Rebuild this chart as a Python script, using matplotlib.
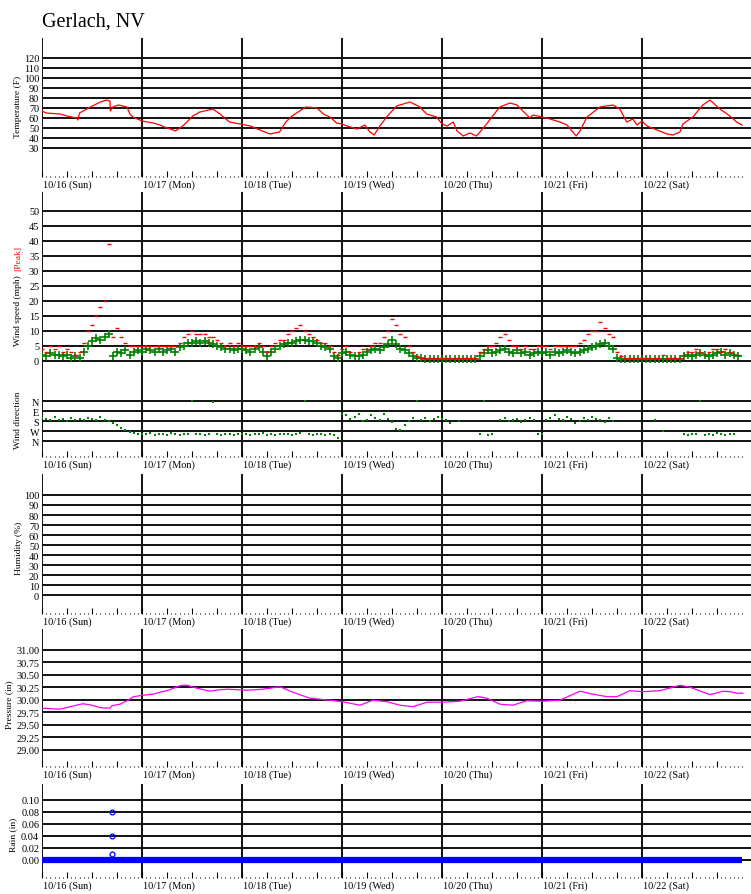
import numpy as np
import matplotlib
matplotlib.use('Agg')
import matplotlib.pyplot as plt
from matplotlib.ticker import FixedLocator

plt.rcParams['font.family'] = ['Liberation Serif', 'DejaVu Serif']

### DATA (hours since 10/16 00:00) ###
day_labels = ['10/16 (Sun)', '10/17 (Mon)', '10/18 (Tue)', '10/19 (Wed)',
              '10/20 (Thu)', '10/21 (Fri)', '10/22 (Sat)']

temp_hours = [0, 1, 4.3, 6, 8.3, 8.6, 9, 11.5, 14, 15.5, 16.3, 16.4, 17, 18.3, 20.4, 21.1, 21.9, 23.5,
              24, 26.7, 28.3, 30, 31.5, 32, 33.8, 36.2, 37.9, 41, 42.7, 45, 47.5,
              50, 52.3, 54.7, 57, 58.5, 60, 63.3, 66, 67.5, 69.1, 70.7, 72,
              73.2, 75.6, 77.5, 78.7, 79.7, 81.1, 82.7, 85.1, 88.3, 90.7, 92.3, 94.7, 96,
              97.2, 98.7, 99.6, 101.1, 102.7, 104.3, 106.7, 109.1, 109.9, 112.3, 114, 115.4, 117.1, 117.8, 120,
              121.9, 124.3, 126, 127.2, 128.2, 129.1, 130.8, 133.9, 137, 138.7, 140.3, 141.8, 142.8, 144,
              145.2, 147.6, 150, 151.4, 153.1, 153.8, 156.2, 158.6, 160.3, 162.7, 165.1, 166.7, 168]
temp_f = [67, 65, 64, 62, 60, 58, 65, 70.7, 76, 78, 77, 67, 71, 73, 71, 64, 60.7, 58,
          57, 55, 53, 50, 48, 47, 52, 62, 66, 69, 64, 56, 54,
          52, 48, 44, 46, 56, 62, 71, 70, 64, 61, 55, 54,
          52, 49, 53, 46, 43, 52, 61, 72, 76, 71, 64, 61, 54,
          52, 56, 47, 42, 45, 42, 54, 67, 71, 75, 73, 67, 60, 63, 61,
          59, 56, 53, 47, 42, 47, 61, 71, 73, 69, 56, 59, 53, 57,
          52, 48, 44, 43, 46, 54, 61, 73, 78, 69, 62, 56, 53]

wind_hours = list(range(168))
wind_avg = [2, 1.5, 2.5, 2, 2, 1.5, 2, 1, 1.5, 1, 3, 5, 6.5, 7.5, 7, 8, 9, 1.5, 3, 2.5, 3.5, 2, 3, 3.5,
            3, 4, 3.5, 3, 4, 3, 3.5, 4, 3, 4.5, 5, 6, 6, 6.5, 6, 6.5, 6, 5.5, 5, 4.5, 4, 4, 3.5, 4,
            4, 3.5, 3, 4, 4.5, 3, 1.5, 3, 4, 5, 5.5, 6, 6, 6.5, 7, 7, 6.5, 6.5, 6, 5, 4.5, 4, 1.5, 1,
            2.5, 3, 2, 1.5, 1.5, 2, 3, 3.5, 4, 3.5, 4.5, 5.5, 7, 5.5, 4, 3.5, 2.5, 1.5, 1, 1, 0.5, 0.5, 0.5, 0.5,
            0.5, 0.5, 0.5, 0.5, 0.5, 0.5, 0.5, 0.5, 0.5, 1.5, 2.5, 3.5, 2.5, 3, 3.5, 4, 3, 2.5, 3.5, 2.5, 3, 2, 2.5, 3,
            2.5, 3, 2, 3, 2.5, 3, 3.5, 3, 2.5, 3, 3.5, 4, 4.5, 5, 5.5, 6, 5, 4, 1, 0.5, 0.5, 0.5, 0.5, 0.5,
            0.5, 0.5, 0.5, 0.5, 0.5, 0.5, 0.5, 0.5, 0.5, 0.5, 1.5, 2, 1.5, 2, 2.5, 2, 1.5, 2, 2.5, 3, 2, 2.5, 2, 1.5]
wind_peak = [4, 3, 5, 4, 5, 3, 4, 3, 2, 3, 6, 10, 12, 15, 18, 20, 39, 8, 11, 8, 6, 5, 5, 5,
             5, 5, 5, 5, 5, 5, 5, 5, 5, 6, 8, 9, 10, 9, 9, 9, 8, 8, 7, 6, 5, 6, 5, 6,
             5, 5, 5, 5, 6, 5, 3, 5, 6, 7, 7, 9, 10, 11, 12, 10, 9, 8, 7, 6, 6, 5, 3, 2,
             4, 5, 3, 2, 3, 4, 4, 5, 6, 6, 8, 10, 14, 12, 9, 8, 5, 3, 1.5, 1, 1, 1, 1, 1,
             1, 1, 1, 1, 1, 1, 1, 1, 1, 3, 4, 5, 5, 6, 8, 9, 7, 5, 5, 4, 5, 4, 4, 5,
             5, 5, 4, 5, 5, 5, 5, 5, 5, 6, 7, 9, 10, 10, 13, 11, 9, 8, 3, 1.5, 1, 1, 1, 1,
             1, 1, 1, 1, 1, 2, 1, 1, 1, 1, 2, 3, 3, 4, 3, 2, 3, 4, 4, 3, 4, 3, 2, 2]
nan = np.nan
wind_dir = [150, 160, 170, 140, 175, 165, 180, 150, 170, 160, 175, 150, 165, 170, 140, 175, 180, 200, 220, 240, 260, 280, 290, 300,
            295, 300, 290, 310, 300, 295, 305, 290, 300, 310, 295, 300, 0, 300, 295, 305, 300, 5, 300, 310, 295, 300, 310, 295,
            300, 295, 310, 300, 295, 290, 305, 300, 310, 295, 300, 295, 305, 300, 290, 0, 300, 310, 295, 300, 305, 300, 310, 330,
            120, 130, 160, 140, 120, 180, 170, 130, 150, 175, 120, 165, 190, 250, 260, 220, 180, 150, 0, 170, 150, 180, 160, 140,
            160, 170, 200, nan, 180, nan, nan, nan, nan, 300, 0, 310, 300, nan, 170, 150, 180, 170, 160, 190, 170, 150, 175, 300,
            300, 170, 150, 130, 160, 175, 140, 160, 200, 180, 150, 170, 140, 160, 175, 190, 150, 180, nan, nan, nan, nan, nan, nan,
            nan, nan, nan, 175, nan, 270, nan, nan, nan, nan, 300, 310, 295, 300, 0, 305, 300, 310, 290, 300, 305, 295, 300, nan]

pres_hours = [0, 4.3, 6.7, 9.8, 12, 14, 16.3, 16.8, 18.7, 20.7, 21.9, 24.3, 26.7, 28.3, 30, 33.1, 34.8, 37.2, 40.3, 42.7,
              44.4, 49.2, 53, 57.1, 60.2, 64.3, 69.1, 72, 76.3, 79.4, 82.8, 85.9, 89, 92.4, 96, 100.3, 104.6, 106.8, 109.9, 113,
              116.4, 120, 124.3, 129.1, 132.2, 135.6, 138, 141.1, 144, 148.3, 153.1, 155.5, 160.3, 163.4, 165.1, 166.8, 168.2]
pressure_in = [29.83, 29.81, 29.86, 29.92, 29.89, 29.84, 29.83, 29.88, 29.91, 29.99, 30.06, 30.09, 30.11, 30.15, 30.18, 30.28, 30.29, 30.23, 30.17, 30.20,
               30.21, 30.19, 30.21, 30.26, 30.15, 30.03, 29.99, 29.96, 29.89, 29.99, 29.96, 29.89, 29.86, 29.95, 29.95, 29.97, 30.06, 30.03, 29.91, 29.89,
               29.98, 29.97, 29.99, 30.17, 30.11, 30.06, 30.06, 30.18, 30.16, 30.18, 30.29, 30.25, 30.10, 30.17, 30.16, 30.13, 30.13]

rain_hours = list(range(0, 169))
rain_in = [0.0] * len(rain_hours)
rain_evt_hours = [16.7, 16.7, 16.7]
rain_evt_in = [0.08, 0.04, 0.01]

### LAYOUT (pixels) ###
W, H = 751, 895
FS = 7.4
LFS = 6.8
X0 = 42
XMAX = (W - X0) / 100 * 24   # 100 px per day

fig = plt.figure(figsize=(W / 100, H / 100), dpi=100)


def px_axes(top, bottom):
    return fig.add_axes([X0 / W, 1 - bottom / H, (W - X0) / W, (bottom - top) / H])


def setup(ax, ylim, yticks, ylabels, bottom_axis=True):
    ax.set_xlim(0, XMAX)
    ax.set_ylim(*ylim)
    for s in ax.spines.values():
        s.set_visible(False)
    ax.set_yticks(yticks)
    ax.set_yticklabels(ylabels)
    ax.tick_params(axis='y', length=0, pad=2, labelsize=FS)
    for y in yticks:
        ax.axhline(y, color='#111111', lw=1.4, zorder=1)
    for d in range(7):
        ax.axvline(d * 24, color='#111111', lw=1.4, zorder=1)
    if bottom_axis:
        ax.xaxis.set_major_locator(FixedLocator(list(range(0, 168, 6))))
        ax.xaxis.set_minor_locator(FixedLocator(list(range(0, 169))))
        ax.tick_params(axis='x', which='major', direction='in', length=4, width=0.8, labelbottom=False)
        ax.tick_params(axis='x', which='minor', direction='in', length=1, width=0.8)
        for d, lab in enumerate(day_labels):
            ax.annotate(lab, xy=(d * 24, 0), xycoords=('data', 'axes fraction'),
                        xytext=(0.5, -2), textcoords='offset points',
                        ha='left', va='top', fontsize=FS, annotation_clip=False)
    else:
        ax.set_xticks([])


def ylabel(x, y, s, color='black'):
    fig.text(x / W, 1 - y / H, s, rotation=90, ha='center', va='center', fontsize=LFS, color=color)


fig.text(X0 / W, 1 - 27 / H, 'Gerlach, NV', fontsize=14.5, ha='left', va='baseline')

### TEMPERATURE ###
ax = px_axes(39, 178)
setup(ax, (1, 140), list(range(30, 121, 10)), [str(v) for v in range(30, 121, 10)])
ax.plot(temp_hours, temp_f, color='#ff0000', lw=0.9, zorder=3)
ylabel(18, 107, 'Temperature (F)')

### WIND SPEED ###
ax = px_axes(193, 380)
setup(ax, (-6.1, 56.2), list(range(0, 51, 5)), [str(v) for v in range(0, 51, 5)], bottom_axis=False)
ax.plot(wind_hours, wind_avg, ls='none', marker='+', ms=6, mew=1.2, color='#008000', zorder=3)
ax.plot(wind_hours, wind_peak, ls='none', marker='_', ms=2.5, mew=1, color='#ff0000', zorder=4)
ylabel(18, 311, 'Wind speed (mph)')
ylabel(18, 258, '[Peak]', color='#ff0000')

### WIND DIRECTION ###
ax = px_axes(380, 458)
setup(ax, (504, -198), [0, 90, 180, 270, 360], ['N', 'E', 'S', 'W', 'N'])
ax.plot(wind_hours, wind_dir, ls='none', marker='s', ms=1.5, mew=0, color='#008000', zorder=3)
ylabel(18, 420, 'Wind direction')

### HUMIDITY ###
ax = px_axes(475, 615)
setup(ax, (-19, 121), list(range(0, 101, 10)), [str(v) for v in range(0, 101, 10)])
ylabel(19, 548, 'Humidity (%)')

### PRESSURE ###
ax = px_axes(630, 768)
pt = [29.00, 29.25, 29.50, 29.75, 30.00, 30.25, 30.50, 30.75, 31.00]
setup(ax, (28.654, 31.414), pt, ['%.2f' % v for v in pt])
ax.plot(pres_hours, pressure_in, color='#ff00ff', lw=0.9, zorder=3)
ylabel(9, 705, 'Pressure (in)')

### RAIN ###
ax = px_axes(785, 879)
rt = [0.00, 0.02, 0.04, 0.06, 0.08, 0.10]
setup(ax, (-0.0305, 0.1262), rt, ['%.2f' % v for v in rt])
ax.plot(rain_hours, rain_in, color='#0000ff', lw=4.5, solid_capstyle='butt', zorder=3)
ax.plot(rain_evt_hours, rain_evt_in, ls='none', marker='o', ms=3.5, mfc='none', mec='#0000ff', mew=0.9, zorder=3)
ylabel(13, 835, 'Rain (in)')

fig.savefig('out.png', dpi=100)
